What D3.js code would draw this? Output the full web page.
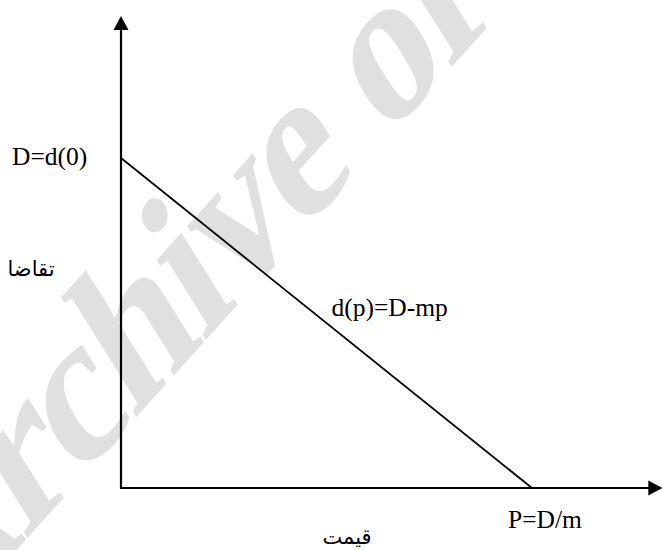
<!DOCTYPE html>
<html>
<head>
<meta charset="utf-8">
<script src="https://cdn.jsdelivr.net/npm/d3@7"></script>
<style>
  html, body { margin: 0; padding: 0; background: #fff; }
  svg { display: block; }
</style>
</head>
<body>
<script>
// ---- data (normalized demand model) ----
const demandIntercept = [1];          // D = d(0) on the demand axis
const priceIntercept = [1];           // P = D/m on the price axis
const linePoints = [[0, 1], [1, 0]];  // d(p) = D - m p  (p, d)
const axisExtent = [1.317, 1.43];     // how far each axis runs (price, demand)
const pointLabels = ["D=d(0)", "d(p)=D-mp", "P=D/m"];
const axisTitles = ["قيمت", "تقاضا"];
const watermark = ["Archive of"];

const W = 662, H = 550;
const svg = d3.select("body").append("svg").attr("width", W).attr("height", H);

const x = d3.scaleLinear().domain([0, priceIntercept[0]]).range([121, 532]);
const y = d3.scaleLinear().domain([0, demandIntercept[0]]).range([488, 158]);

const serif = "Liberation Serif";

// watermark (slant emulated with a skew)
svg.append("text")
  .attr("transform", "translate(-68,644) rotate(-48) skewX(-16)")
  .style("font-family", serif)
  .style("font-weight", "bold")
  .style("letter-spacing", "-4px")
  .attr("font-size", 196)
  .attr("fill", "#e0e0e0")
  .text(watermark[0]);

// axes
const axisG = svg.append("g").attr("stroke", "#000").attr("stroke-width", 2.2);
axisG.append("line")
  .attr("x1", x(0)).attr("y1", y(0))
  .attr("x2", x(0)).attr("y2", y(axisExtent[1]) + 10);
axisG.append("line")
  .attr("x1", x(0) - 1).attr("y1", y(0))
  .attr("x2", x(axisExtent[0]) - 10).attr("y2", y(0));

// arrowheads
const ah = 14, aw = 7.5;
const tipY = y(axisExtent[1]);
svg.append("path")
  .attr("d", `M${x(0)},${tipY} L${x(0) - aw},${tipY + ah} L${x(0) + aw},${tipY + ah} Z`)
  .attr("fill", "#000");
const tipX = x(axisExtent[0]);
svg.append("path")
  .attr("d", `M${tipX},${y(0)} L${tipX - ah},${y(0) - aw} L${tipX - ah},${y(0) + aw} Z`)
  .attr("fill", "#000");

// demand line
const line = d3.line().x(d => x(d[0])).y(d => y(d[1]));
svg.append("path")
  .datum(linePoints)
  .attr("d", line)
  .attr("fill", "none")
  .attr("stroke", "#000")
  .attr("stroke-width", 1.8);

// labels
svg.append("text").style("font-family", serif)
  .attr("x", x(0) - 109).attr("y", y(demandIntercept[0]) + 7)
  .attr("font-size", 25.5).attr("fill", "#000")
  .text(pointLabels[0]);
svg.append("text").style("font-family", serif)
  .attr("x", x(0.512)).attr("y", y(0.52))
  .attr("font-size", 25.5).attr("fill", "#000")
  .text(pointLabels[1]);
svg.append("text").style("font-family", serif)
  .attr("x", x(priceIntercept[0]) - 24).attr("y", y(0) + 40)
  .attr("font-size", 25.5).attr("fill", "#000")
  .text(pointLabels[2]);

// axis titles (Persian)
svg.append("text").style("font-family", "DejaVu Sans")
  .attr("x", 347).attr("y", 544)
  .attr("text-anchor", "middle")
  .attr("font-size", 21)
  .attr("fill", "#000")
  .text(axisTitles[0]);
svg.append("text").style("font-family", "DejaVu Sans")
  .attr("x", 31).attr("y", 276)
  .attr("text-anchor", "middle")
  .attr("font-size", 21)
  .attr("fill", "#000")
  .text(axisTitles[1]);
</script>
</body>
</html>
